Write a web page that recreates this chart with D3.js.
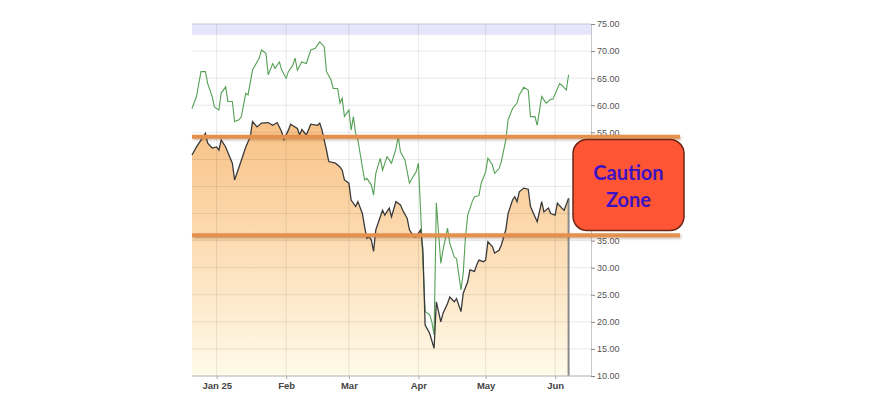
<!DOCTYPE html>
<html><head><meta charset="utf-8">
<script src="https://cdn.jsdelivr.net/npm/d3@7"></script>
<style>body{margin:0;background:#fff}svg{display:block}</style>
</head><body>
<svg id="c" width="893" height="400"></svg>
<script>
// ---- data ----
const blackDates = ["2024-12-21","2024-12-23","2024-12-27","2024-12-28","2024-12-30","2025-01-01","2025-01-02","2025-01-03","2025-01-05","2025-01-08","2025-01-09","2025-01-11","2025-01-14","2025-01-16","2025-01-17","2025-01-19","2025-01-21","2025-01-24","2025-01-26","2025-01-28","2025-01-30","2025-01-31","2025-02-02","2025-02-03","2025-02-06","2025-02-07","2025-02-08","2025-02-10","2025-02-12","2025-02-15","2025-02-16","2025-02-17","2025-02-19","2025-02-20","2025-02-23","2025-02-25","2025-02-26","2025-02-27","2025-03-01","2025-03-02","2025-03-04","2025-03-05","2025-03-07","2025-03-08","2025-03-09","2025-03-10","2025-03-11","2025-03-12","2025-03-13","2025-03-15","2025-03-16","2025-03-17","2025-03-19","2025-03-20","2025-03-22","2025-03-24","2025-03-25","2025-03-27","2025-03-28","2025-03-30","2025-03-31","2025-04-02","2025-04-03","2025-04-04","2025-04-06","2025-04-08","2025-04-09","2025-04-11","2025-04-12","2025-04-14","2025-04-15","2025-04-17","2025-04-18","2025-04-20","2025-04-21","2025-04-23","2025-04-24","2025-04-26","2025-04-27","2025-04-28","2025-04-30","2025-05-01","2025-05-02","2025-05-04","2025-05-05","2025-05-07","2025-05-08","2025-05-10","2025-05-11","2025-05-13","2025-05-14","2025-05-15","2025-05-16","2025-05-18","2025-05-20","2025-05-21","2025-05-23","2025-05-24","2025-05-26","2025-05-27","2025-05-29","2025-05-30","2025-06-01","2025-06-02","2025-06-04","2025-06-05","2025-06-07"];
const blackValues = [50.8,52.3,54.8,53.0,52.1,52.3,51.7,53.6,52.3,49.3,46.2,48.6,52.3,54.2,57.0,56.0,56.7,56.8,56.3,56.8,55.1,53.7,55.4,56.5,55.7,54.5,55.5,54.5,56.5,56.3,56.7,55.4,51.7,49.6,49.3,48.6,48.0,46.2,45.6,42.5,41.3,42.2,40.0,37.6,35.4,35.7,35.1,33.0,37.0,39.4,40.6,39.7,41.0,39.4,42.2,41.6,40.6,39.1,37.0,35.7,35.7,37.0,33.3,19.4,17.9,15.1,23.7,20.0,21.6,23.4,24.6,23.7,24.3,21.9,25.3,27.4,29.6,29.3,30.5,31.4,31.1,31.4,34.8,33.9,32.7,33.2,34.2,37.0,40.0,42.5,43.1,42.2,44.0,44.7,44.5,41.3,39.4,38.5,42.2,40.3,41.0,40.0,39.7,41.9,41.0,40.6,42.8];

const greenDates = ["2024-12-21","2024-12-23","2024-12-25","2024-12-27","2024-12-28","2024-12-30","2024-12-31","2025-01-02","2025-01-03","2025-01-05","2025-01-06","2025-01-08","2025-01-09","2025-01-11","2025-01-12","2025-01-14","2025-01-15","2025-01-17","2025-01-20","2025-01-21","2025-01-23","2025-01-24","2025-01-26","2025-01-27","2025-01-29","2025-01-30","2025-02-01","2025-02-02","2025-02-04","2025-02-05","2025-02-06","2025-02-08","2025-02-10","2025-02-12","2025-02-14","2025-02-16","2025-02-18","2025-02-19","2025-02-21","2025-02-22","2025-02-24","2025-02-25","2025-02-26","2025-02-27","2025-03-01","2025-03-02","2025-03-03","2025-03-04","2025-03-05","2025-03-07","2025-03-08","2025-03-09","2025-03-11","2025-03-12","2025-03-13","2025-03-15","2025-03-16","2025-03-18","2025-03-20","2025-03-22","2025-03-23","2025-03-24","2025-03-26","2025-03-28","2025-03-30","2025-03-31","2025-04-01","2025-04-03","2025-04-04","2025-04-06","2025-04-07","2025-04-08","2025-04-09","2025-04-11","2025-04-12","2025-04-14","2025-04-15","2025-04-17","2025-04-18","2025-04-20","2025-04-21","2025-04-22","2025-04-23","2025-04-25","2025-04-26","2025-04-28","2025-04-29","2025-05-01","2025-05-02","2025-05-04","2025-05-05","2025-05-07","2025-05-08","2025-05-10","2025-05-11","2025-05-13","2025-05-15","2025-05-16","2025-05-18","2025-05-20","2025-05-21","2025-05-23","2025-05-24","2025-05-26","2025-05-28","2025-05-30","2025-05-31","2025-06-03","2025-06-04","2025-06-06","2025-06-07"];
const greenValues = [59.4,61.6,66.2,66.2,64.0,61.6,59.7,59.1,62.2,63.4,60.7,60.7,57.0,57.3,57.9,62.2,61.9,66.5,68.7,70.2,69.6,65.6,67.7,66.8,68.0,66.5,65.0,66.2,67.4,68.7,66.5,68.0,67.7,70.2,70.5,71.7,70.8,66.2,64.7,63.1,63.1,60.4,61.3,57.9,59.1,55.4,57.9,54.8,53.6,48.6,46.2,46.5,45.3,43.4,47.4,50.2,48.0,50.5,49.3,52.0,54.2,51.4,49.9,45.6,47.1,47.7,49.3,31.4,21.9,21.3,20.0,17.6,42.0,30.8,33.3,37.3,34.5,32.0,31.7,25.9,29.0,35.7,39.7,42.2,43.1,43.3,45.6,47.7,50.2,49.0,47.4,48.3,49.6,53.6,57.3,59.4,60.4,61.9,63.3,62.8,57.9,57.9,56.3,61.6,60.4,61.1,61.1,64.0,63.7,62.8,65.6];

const yTicks = [10,15,20,25,30,35,40,45,50,55,60,65,70,75];
const xTickDates = ["2025-01-01","2025-02-01","2025-03-01","2025-04-01","2025-05-01","2025-06-01"];
const xTickLabels = ["Jan 25","Feb","Mar","Apr","May","Jun"];
const cautionLevels = [54.2, 36.0];
const topBand = [73, 75];
const calloutLines = ["Caution","Zone"];

// ---- layout ----
const svg = d3.select("#c");
const parse = d3.utcParse("%Y-%m-%d");
const L = 192, R = 591, T = 24, B = 376;
const x = d3.scaleUtc().domain([parse("2024-12-21"), parse("2025-06-17")]).range([L, R]);
const y = d3.scaleLinear().domain([10, 75]).range([B, T]);

const black = blackDates.map((d,i)=>({date:parse(d), v:blackValues[i]}));
const green = greenDates.map((d,i)=>({date:parse(d), v:greenValues[i]}));

const defs = svg.append("defs");
const grad = defs.append("linearGradient").attr("id","ag")
  .attr("gradientUnits","userSpaceOnUse").attr("x1",0).attr("y1",120).attr("x2",0).attr("y2",B);
grad.append("stop").attr("offset","0").attr("stop-color","#f8c185");
grad.append("stop").attr("offset","0.45").attr("stop-color","#fcdab0");
grad.append("stop").attr("offset","1").attr("stop-color","#fffbea");

const blur = defs.append("filter").attr("id","bl").attr("filterUnits","userSpaceOnUse")
  .attr("x",0).attr("y",0).attr("width",893).attr("height",400);
blur.append("feGaussianBlur").attr("stdDeviation",1.2);

// top band
svg.append("rect").attr("x",L).attr("y",y(topBand[1])).attr("width",R-L)
  .attr("height",y(topBand[0])-y(topBand[1])).attr("fill","#e7e5fb");

// area
svg.append("path").datum(black)
  .attr("d", d3.area().x(d=>x(d.date)).y0(B).y1(d=>y(d.v)))
  .attr("fill","url(#ag)");

// grid
const g = svg.append("g");
g.selectAll(".hg").data(yTicks).join("line")
  .attr("x1",L).attr("x2",R).attr("y1",d=>y(d)).attr("y2",d=>y(d))
  .attr("stroke", d=> d===75 ? "#c8c8d4" : "rgba(0,0,0,0.09)").attr("stroke-width",1);
g.selectAll(".vg").data(xTickDates).join("line")
  .attr("x1",d=>x(parse(d))).attr("x2",d=>x(parse(d))).attr("y1",T).attr("y2",B)
  .attr("stroke","rgba(0,0,0,0.09)").attr("stroke-width",1);

// end marker vertical line
const last = black[black.length-1];
svg.append("line").attr("x1",x(last.date)).attr("x2",x(last.date))
  .attr("y1",y(last.v)).attr("y2",B).attr("stroke","#8a8a8a").attr("stroke-width",2);

// lines
svg.append("path").datum(green)
  .attr("d", d3.line().x(d=>x(d.date)).y(d=>y(d.v)))
  .attr("fill","none").attr("stroke","#55a055").attr("stroke-width",1.1);
svg.append("path").datum(black)
  .attr("d", d3.line().x(d=>x(d.date)).y(d=>y(d.v)))
  .attr("fill","none").attr("stroke","#3a3a3a").attr("stroke-width",1.3);

// callout box geometry (labels hidden beneath it are not drawn)
const bx = 573, by = 139.5, bw = 111, bh = 91;

// axes
const yAxis = d3.axisRight(y).tickValues(yTicks).tickSize(4).tickPadding(2).tickFormat(d3.format(".2f"));
const ya = svg.append("g").attr("transform",`translate(${R},0)`).call(yAxis);
ya.select(".domain").attr("stroke","#c8c8c8");
ya.selectAll(".tick line").attr("stroke","#888");
ya.selectAll("text").attr("font-family","Liberation Sans, Arial, sans-serif").attr("font-size",9).attr("fill","#555");
ya.selectAll(".tick").filter(d => y(d) > by - 2 && y(d) < by + bh + 2).select("text").remove();

const xAxis = d3.axisBottom(x).tickValues(xTickDates.map(parse)).tickSize(3).tickPadding(3)
  .tickFormat((d,i)=>xTickLabels[i]);
const xa = svg.append("g").attr("transform",`translate(0,${B})`).call(xAxis);
xa.select(".domain").attr("stroke","#b8b8b8").attr("d",`M${L},0H${R}`);
xa.selectAll(".tick line").attr("stroke","#aaa");
xa.selectAll("text").attr("font-family","Liberation Sans, Arial, sans-serif").attr("font-size",9.5)
  .attr("font-weight","bold").attr("fill","#444");

// caution lines (with soft shadow)
svg.selectAll(".cls").data(cautionLevels).join("line")
  .attr("x1",L+1).attr("x2",681).attr("y1",d=>y(d)+1.5).attr("y2",d=>y(d)+1.5)
  .attr("stroke","rgba(120,70,30,0.35)").attr("stroke-width",4).attr("filter","url(#bl)");
svg.selectAll(".cl").data(cautionLevels).join("line")
  .attr("x1",L).attr("x2",680).attr("y1",d=>y(d)).attr("y2",d=>y(d))
  .attr("stroke","#e4914e").attr("stroke-width",4);

// callout box
svg.append("rect").attr("x",bx).attr("y",by).attr("width",bw).attr("height",bh)
  .attr("rx",14).attr("fill","#fe5634").attr("stroke","#6e2412").attr("stroke-width",1.5);
svg.selectAll(".ct").data(calloutLines).join("text")
  .attr("x",bx+bw/2).attr("y",(d,i)=>180+i*27).attr("text-anchor","middle")
  .attr("font-family","Lato, 'Open Sans', sans-serif").attr("font-weight","bold")
  .attr("font-size",20).attr("fill","#3c12c4").text(d=>d);
</script>
</body></html>
